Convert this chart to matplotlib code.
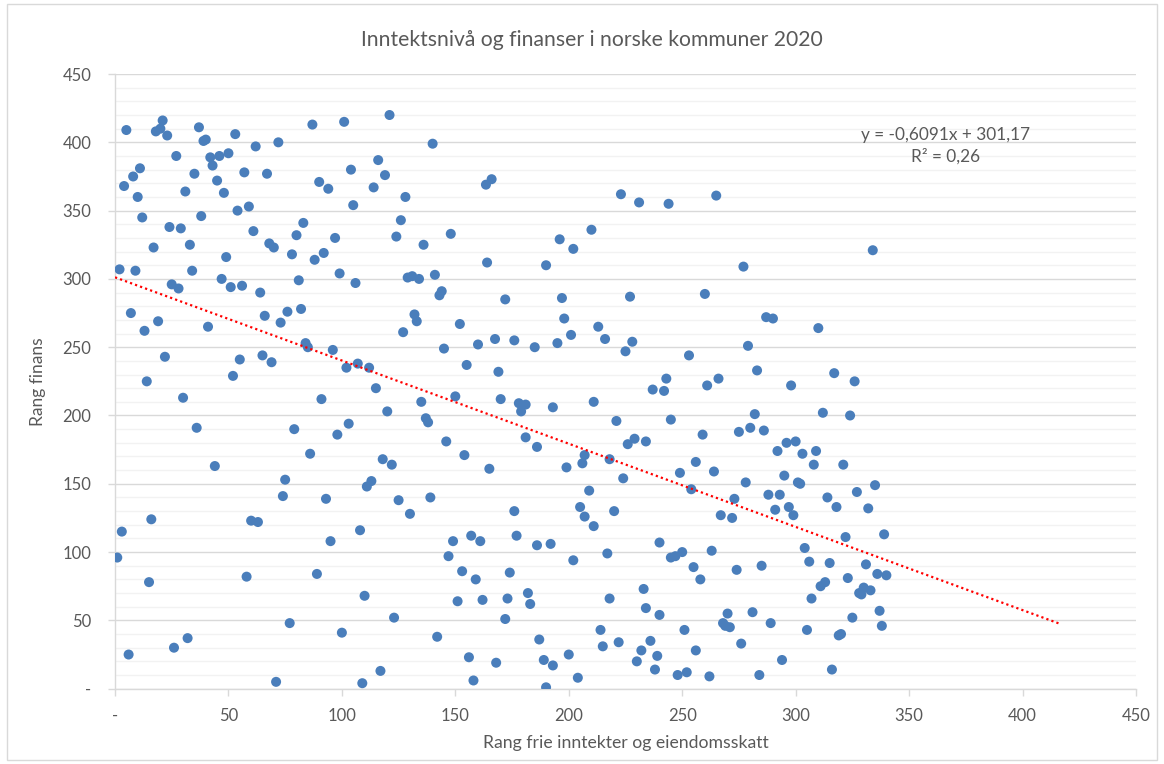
import numpy as np
import matplotlib
matplotlib.use('Agg')
from matplotlib import pyplot as plt
from matplotlib.patches import Rectangle
from matplotlib.ticker import MultipleLocator, FuncFormatter

plt.rcParams['font.family'] = ['Lato', 'DejaVu Sans']

# rang frie inntekter og eiendomsskatt (x) / rang finans (y), lest av figuren
rang_inntekt = [
    5, 18, 20, 21, 23, 37, 39, 40, 53, 62, 72, 27, 42, 46, 50, 43, 11, 8, 35, 57,
    67, 4, 45, 31, 48, 10, 54, 59, 12, 38, 24, 29, 61, 83, 80, 17, 33, 68, 70, 49,
    78, 2, 9, 34, 47, 81, 25, 28, 51, 56, 64, 7, 19, 13, 41, 66, 76, 82, 73, 22,
    55, 65, 69, 52, 14, 30, 36, 79, 44, 75, 74, 16, 3, 60, 63, 1, 15, 58, 77, 32,
    26, 6, 71,
    87, 101, 121, 140, 116, 104, 119, 90, 94, 114, 128, 105, 163.5, 166, 126, 97, 124, 148, 136, 92,
    88, 164, 99, 106, 129, 131, 134, 141, 144, 143, 132, 133, 127, 152, 167.5, 84, 85, 96, 145, 160,
    155, 169, 102, 107, 112, 115, 91, 135, 150, 120, 103, 98, 137, 138, 146, 86, 118, 122, 154, 165,
    113, 111, 93, 125, 139, 130, 108, 95, 149, 157, 161, 147, 89, 153, 159, 110, 151, 162, 123, 100,
    142, 156, 168, 117, 109, 158,
    223, 231, 244, 210, 196, 202, 190, 172, 197, 227, 198, 213, 201, 176, 216, 228, 185, 195, 225, 253,
    243, 237, 242, 170, 178, 181, 179, 193, 211, 221, 245, 181, 186, 226, 229, 234, 207, 206, 199, 218,
    224, 249, 254, 209, 176, 205, 220, 207, 211, 177, 186, 192, 240, 217, 245, 247, 250, 202, 174, 233,
    173, 182, 183, 218, 234, 240, 172, 214, 251, 187, 236, 215, 222, 232, 189, 193, 200, 239, 230, 238,
    204, 190, 248, 252,
    265, 334, 277, 260, 287, 290, 310, 279, 283, 317, 266, 261, 298, 326, 282, 312, 324, 259, 275, 280,
    286, 292, 296, 300, 303, 309, 308, 321, 256, 264, 295, 278, 301, 302, 335, 327, 288, 293, 273, 314,
    291, 297, 318, 332, 267, 272, 299, 339, 322, 304, 263, 255, 258, 274, 285, 306, 315, 331, 336, 340,
    323, 311, 313, 307, 330, 328, 329, 333, 270, 281, 268, 269, 271, 289, 305, 325, 337, 338, 319, 320,
    276, 256, 294, 316, 262, 284,
]
rang_finans = [
    409, 408, 410, 416, 405, 411, 401, 402, 406, 397, 400, 390, 389, 390, 392, 383, 381, 375, 377, 378,
    377, 368, 372, 364, 363, 360, 350, 353, 345, 346, 338, 337, 335, 341, 332, 323, 325, 326, 323, 316,
    318, 307, 306, 306, 300, 299, 296, 293, 294, 295, 290, 275, 269, 262, 265, 273, 276, 278, 268, 243,
    241, 244, 239, 229, 225, 213, 191, 190, 163, 153, 141, 124, 115, 123, 122, 96, 78, 82, 48, 37,
    30, 25, 5,
    413, 415, 420, 399, 387, 380, 376, 371, 366, 367, 360, 354, 369, 373, 343, 330, 331, 333, 325, 319,
    314, 312, 304, 297, 301, 302, 300, 303, 291, 288, 274, 269, 261, 267, 256, 253, 250, 248, 249, 252,
    237, 232, 235, 238, 235, 220, 212, 210, 214, 203, 194, 186, 198, 195, 181, 172, 168, 164, 171, 161,
    152, 148, 139, 138, 140, 128, 116, 108, 108, 112, 108, 97, 84, 86, 80, 68, 64, 65, 52, 41,
    38, 23, 19, 13, 4, 6,
    362, 356, 355, 336, 329, 322, 310, 285, 286, 287, 271, 265, 259, 255, 256, 254, 250, 253, 247, 244,
    227, 219, 218, 212, 209, 208, 203, 206, 210, 196, 197, 184, 177, 179, 183, 181, 171, 165, 162, 168,
    154, 158, 146, 145, 130, 133, 130, 126, 119, 112, 105, 106, 107, 99, 96, 97, 100, 94, 85, 73,
    66, 70, 62, 66, 59, 54, 51, 43, 43, 36, 35, 31, 34, 28, 21, 17, 25, 24, 20, 14,
    8, 1, 10, 12,
    361, 321, 309, 289, 272, 271, 264, 251, 233, 231, 227, 222, 222, 225, 201, 202, 200, 186, 188, 191,
    189, 174, 180, 181, 172, 174, 164, 164, 166, 159, 156, 151, 151, 150, 149, 144, 142, 142, 139, 140,
    131, 133, 133, 132, 127, 125, 127, 113, 111, 103, 101, 89, 80, 87, 90, 93, 92, 91, 84, 83,
    81, 75, 78, 66, 74, 70, 69, 72, 55, 56, 48, 46, 45, 48, 43, 52, 57, 46, 39, 40,
    33, 28, 21, 14, 9, 10,
]

# lineær trendlinje slik den står i figuren
stigning = -0.6091
konstant = 301.17
trend_x = [0, 416]
likning = 'y = -0,6091x + 301,17\nR² = 0,26'

fig = plt.figure(figsize=(11.64, 7.64), dpi=100)
ax = fig.add_axes([0.0988, 0.0986, 0.8771, 0.8045])

ax.scatter(rang_inntekt, rang_finans, s=52, color='#4a7ebb', edgecolor='none', zorder=3)
tx = np.array(trend_x)
ax.plot(tx, stigning * tx + konstant, color='#ff0000', lw=1.6, ls=(0, (1, 1.4)), zorder=4)

ax.set_xlim(0, 450)
ax.set_ylim(0, 450)
ax.xaxis.set_major_locator(MultipleLocator(50))
ax.yaxis.set_major_locator(MultipleLocator(50))
ax.yaxis.set_minor_locator(MultipleLocator(10))
fmt = FuncFormatter(lambda v, p: '-' if v == 0 else f'{v:.0f}')
ax.xaxis.set_major_formatter(fmt)
ax.yaxis.set_major_formatter(fmt)

ax.grid(axis='y', which='major', color='#d9d9d9', lw=1.0, zorder=0)
ax.grid(axis='y', which='minor', color='#f2f2f2', lw=1.0, zorder=0)
ax.set_axisbelow(True)
for s in ['top', 'right']:
    ax.spines[s].set_visible(False)
for s in ['left', 'bottom']:
    ax.spines[s].set_color('#d9d9d9')
    ax.spines[s].set_linewidth(1.0)
ax.tick_params(axis='both', which='major', colors='#d9d9d9', labelcolor='#595959',
               labelsize=12, length=5, width=1.0)
ax.tick_params(axis='y', which='major', pad=12)
ax.tick_params(axis='x', which='major', pad=9)
ax.tick_params(axis='y', which='minor', length=0)

ax.set_xlabel('Rang frie inntekter og eiendomsskatt', fontsize=12.7, color='#595959', labelpad=8)
ax.set_ylabel('Rang finans', fontsize=12.5, color='#595959', labelpad=12)
fig.text(0.5086, 0.9476, 'Inntektsnivå og finanser i norske kommuner 2020',
         ha='center', va='center', fontsize=15.2, color='#595959')

ax.text(0.8134, 0.8829, likning, transform=ax.transAxes, ha='center', va='center',
        fontsize=12.4, color='#595959', linespacing=1.4, multialignment='center')

fig.patches.append(Rectangle((0.006, 0.005), 0.988, 0.99, transform=fig.transFigure,
                             fill=False, edgecolor='#d9d9d9', lw=1.0))

fig.savefig('out.png', dpi=100)
